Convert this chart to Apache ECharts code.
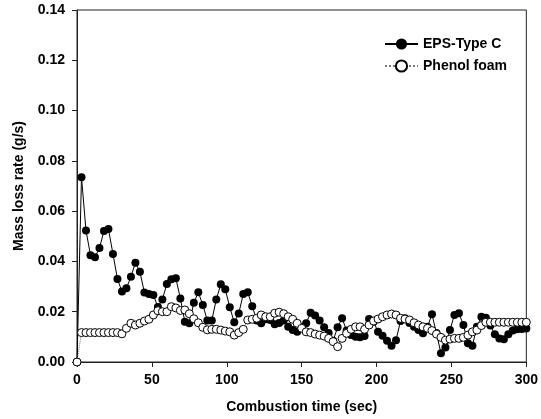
<!DOCTYPE html>
<html>
<head>
<meta charset="utf-8">
<script src="https://cdn.jsdelivr.net/npm/echarts@6/dist/echarts.min.js"></script>
<style>html,body{margin:0;padding:0;background:#fff;}#chart{width:541px;height:419px;}</style>
</head>
<body>
<div id="chart"></div>
<script>
var times = [0,3,6,9,12,15,18,21,24,27,30,33,36,39,42,45,48,51,54,57,60,63,66,69,72,75,78,81,84,87,90,93,96,99,102,105,108,111,114,117,120,123,126,129,132,135,138,141,144,147,150,153,156,159,162,165,168,171,174,177,180,183,186,189,192,195,198,201,204,207,210,213,216,219,222,225,228,231,234,237,240,243,246,249,252,255,258,261,264,267,270,273,276,279,282,285,288,291,294,297,300];

var epsValues = [0,0.0735,0.0523,0.0425,0.0417,0.0453,0.0521,0.0529,0.043,0.033,0.028,0.0293,0.0339,0.0395,0.0359,0.0276,0.027,0.0266,0.0219,0.0249,0.031,0.0329,0.0333,0.0253,0.016,0.0154,0.0236,0.0277,0.0227,0.0165,0.0165,0.0249,0.0309,0.0289,0.0218,0.0158,0.0193,0.027,0.0277,0.0222,0.0165,0.0154,0.017,0.0167,0.015,0.0155,0.0165,0.014,0.0127,0.012,0.0138,0.0154,0.0196,0.0185,0.0165,0.0138,0.0115,0.0085,0.0138,0.0174,0.0125,0.0107,0.01,0.0098,0.0103,0.0171,0.016,0.012,0.0104,0.0085,0.0065,0.0087,0.0163,0.0174,0.0155,0.014,0.0127,0.0114,0.014,0.019,0.0115,0.0035,0.0058,0.0127,0.0187,0.0194,0.0147,0.0075,0.0065,0.014,0.018,0.0176,0.0145,0.011,0.0093,0.009,0.011,0.0125,0.013,0.0131,0.0133];

var phenolValues = [0,0.0117,0.0117,0.0117,0.0117,0.0117,0.0117,0.0117,0.0117,0.0117,0.0112,0.0134,0.0154,0.0147,0.0154,0.0163,0.017,0.0187,0.0204,0.02,0.02,0.022,0.0215,0.0205,0.0207,0.0192,0.0172,0.0156,0.0138,0.0128,0.013,0.013,0.0127,0.0123,0.012,0.0107,0.0117,0.013,0.0167,0.017,0.0174,0.0187,0.018,0.018,0.0194,0.0198,0.0192,0.018,0.017,0.0154,0.0134,0.012,0.0117,0.0111,0.0107,0.0103,0.0094,0.0081,0.0061,0.0094,0.0114,0.013,0.014,0.014,0.013,0.0147,0.0163,0.0171,0.018,0.0187,0.0191,0.0187,0.0174,0.0171,0.0167,0.0156,0.0147,0.014,0.0134,0.0125,0.0111,0.0098,0.0087,0.0091,0.0094,0.0094,0.0098,0.0107,0.012,0.0127,0.0145,0.0158,0.0158,0.0158,0.0158,0.0158,0.0158,0.0158,0.0158,0.0158,0.0158];

var seriesNames = ['EPS-Type C', 'Phenol foam'];
var xTitle = 'Combustion time (sec)';
var yTitle = 'Mass loss rate (g/s)';

function pairs(vals) { return times.map(function (t, i) { return [t, vals[i]]; }); }

var font = 'Arial, "Liberation Sans", sans-serif';
var chart = echarts.init(document.getElementById('chart'), null, {renderer: 'canvas'});
chart.setOption({
  animation: false,
  backgroundColor: '#fff',
  grid: {left: 77, right: 14, top: 10, bottom: 57, show: true, borderColor: '#222', borderWidth: 1, containLabel: false},
  legend: {
    orient: 'vertical', left: 379, top: 32, itemWidth: 33, itemHeight: 14, itemGap: 8,
    textStyle: {fontFamily: font, fontWeight: 'bold', fontSize: 14, color: '#000'},
    data: seriesNames
  },
  xAxis: {
    type: 'value', min: 0, max: 300, interval: 50,
    name: xTitle, nameLocation: 'middle', nameGap: 38,
    nameTextStyle: {fontFamily: font, fontWeight: 'bold', fontSize: 14, color: '#000'},
    axisLine: {lineStyle: {color: '#222', width: 1}},
    axisTick: {show: true, inside: false, length: 5, lineStyle: {color: '#222'}},
    axisLabel: {fontFamily: font, fontWeight: 'bold', fontSize: 14, color: '#000', margin: 11},
    splitLine: {show: false}
  },
  yAxis: {
    type: 'value', min: 0, max: 0.14, interval: 0.02,
    name: yTitle, nameLocation: 'middle', nameGap: 51,
    nameTextStyle: {fontFamily: font, fontWeight: 'bold', fontSize: 14, color: '#000'},
    axisLine: {show: true, lineStyle: {color: '#222', width: 1}},
    axisTick: {show: true, inside: false, length: 5, lineStyle: {color: '#222'}},
    axisLabel: {fontFamily: font, fontWeight: 'bold', fontSize: 14, color: '#000', margin: 12,
      formatter: function (v) { return v.toFixed(2); }},
    splitLine: {show: false}
  },
  series: [
    {
      name: seriesNames[0], type: 'line', data: pairs(epsValues),
      symbol: 'circle', symbolSize: 8, showAllSymbol: true,
      lineStyle: {color: '#000', width: 1},
      itemStyle: {color: '#000', borderColor: '#000', borderWidth: 0}
    },
    {
      name: seriesNames[1], type: 'line', data: pairs(phenolValues),
      symbol: 'circle', symbolSize: 8, showAllSymbol: true,
      lineStyle: {color: '#777', width: 1, type: 'dotted'},
      itemStyle: {color: '#fff', borderColor: '#000', borderWidth: 1}
    }
  ]
});
</script>
</body>
</html>
